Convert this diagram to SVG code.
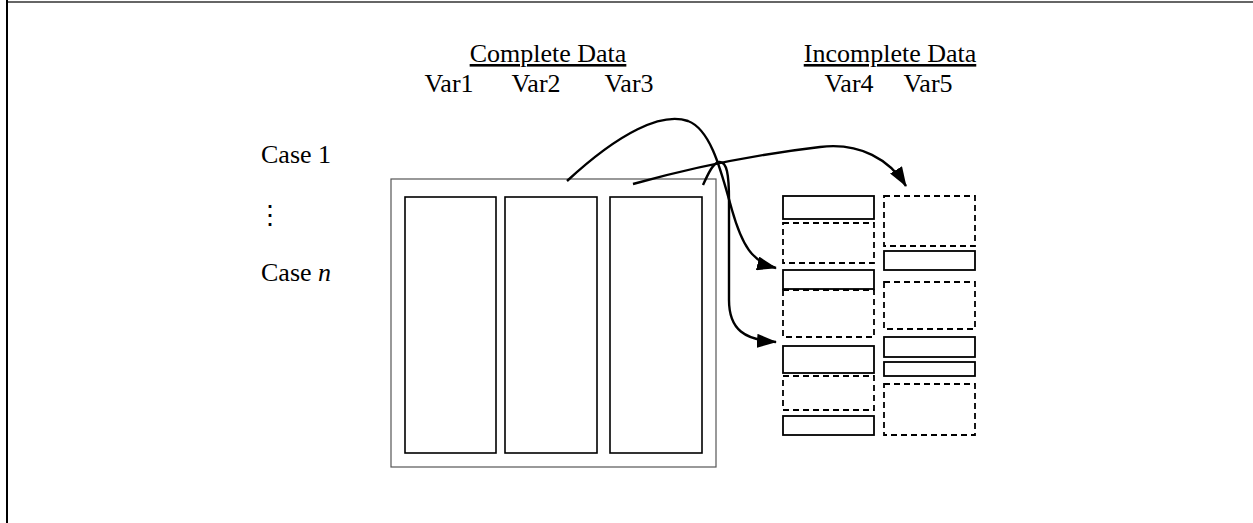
<svg xmlns="http://www.w3.org/2000/svg" width="1253" height="523" viewBox="0 0 1253 523">
  <style>
    .lbl { font-family: "Liberation Serif", "DejaVu Serif", serif; font-size: 26px; fill: #000; }
    .col { fill: #fff; stroke: #000; stroke-width: 1.6; }
    .cell { fill: #fff; stroke: #000; stroke-width: 1.8; }
    .miss { fill: none; stroke: #000; stroke-width: 1.8; stroke-dasharray: 6 4; }
    .conn { fill: none; stroke: #000; stroke-width: 2.4; }
  </style>
  <defs>
    <marker id="arrow" viewBox="0 0 20 14" refX="19" refY="7" markerUnits="userSpaceOnUse" markerWidth="20" markerHeight="14" orient="auto">
      <path d="M0,0 L20,7 L0,14 Z" fill="#000"/>
    </marker>
  </defs>
  <rect width="1253" height="523" fill="#fff"/>

  <!-- page frame -->
  <g id="frame">
    <line x1="6" y1="2" x2="1253" y2="2" stroke="#333" stroke-width="1.5"/>
    <line x1="7" y1="0" x2="7" y2="523" stroke="#000" stroke-width="2"/>
  </g>

  <!-- headings -->
  <g id="complete-heading">
    <text class="lbl" x="548" y="62" text-anchor="middle" text-decoration="underline">Complete Data</text>
    <text class="lbl" x="449" y="92" text-anchor="middle">Var1</text>
    <text class="lbl" x="536" y="92" text-anchor="middle">Var2</text>
    <text class="lbl" x="629" y="92" text-anchor="middle">Var3</text>
  </g>
  <g id="incomplete-heading">
    <text class="lbl" x="890" y="62" text-anchor="middle" text-decoration="underline">Incomplete Data</text>
    <text class="lbl" x="849" y="92" text-anchor="middle">Var4</text>
    <text class="lbl" x="928" y="92" text-anchor="middle">Var5</text>
  </g>

  <!-- row labels -->
  <g id="cases">
    <text class="lbl" x="261" y="163">Case 1</text>
    <text class="lbl" x="257" y="224" font-size="22">⋮</text>
    <text class="lbl" x="261" y="281">Case <tspan font-style="italic">n</tspan></text>
  </g>

  <!-- complete data block -->
  <g id="complete-block">
    <rect x="391" y="179" width="325" height="288" fill="#fff" stroke="#555" stroke-width="1.2"/>
    <rect class="col" x="405" y="197" width="91" height="256"/>
    <rect class="col" x="505" y="197" width="92" height="256"/>
    <rect class="col" x="610" y="197" width="92" height="256"/>
  </g>

  <!-- Var4 column: observed (solid) and missing (dashed) segments -->
  <g id="var4">
    <rect class="cell" x="783" y="196" width="91" height="23"/>
    <rect class="miss" x="783" y="223" width="91" height="40"/>
    <rect class="cell" x="783" y="270" width="91" height="19"/>
    <rect class="miss" x="783" y="290" width="91" height="47"/>
    <rect class="cell" x="783" y="346" width="91" height="27"/>
    <rect class="miss" x="783" y="376" width="91" height="34"/>
    <rect class="cell" x="783" y="416" width="91" height="19"/>
  </g>

  <!-- Var5 column -->
  <g id="var5">
    <rect class="miss" x="884" y="196" width="91" height="50"/>
    <rect class="cell" x="884" y="251" width="91" height="19"/>
    <rect class="miss" x="884" y="282" width="91" height="47"/>
    <rect class="cell" x="884" y="337" width="91" height="20"/>
    <rect class="cell" x="884" y="362" width="91" height="14"/>
    <rect class="miss" x="884" y="384" width="91" height="51"/>
  </g>

  <!-- connectors -->
  <g id="connectors">
    <path class="conn" marker-end="url(#arrow)" d="M567,181 C620,132 662,112 688,121 C712,130 722,175 732,210 C742,245 752,262 776,268"/>
    <path class="conn" marker-end="url(#arrow)" d="M633,184 C690,168 760,154 820,147 C860,142 890,160 906,186"/>
    <path class="conn" marker-end="url(#arrow)" d="M703,185 C708,174 713,163 719,162 C727,161 729,175 729,200 L729,300 C729,330 745,340 776,342"/>
  </g>
</svg>
